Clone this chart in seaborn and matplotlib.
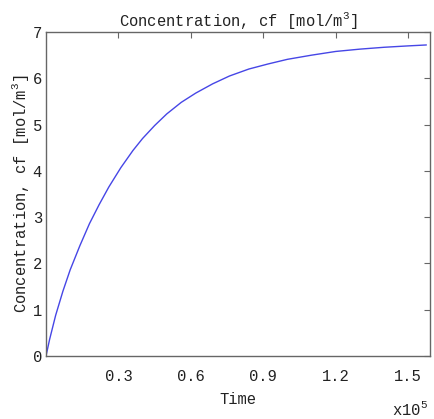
import matplotlib
matplotlib.use("Agg")
import matplotlib.pyplot as plt
import seaborn as sns
import pandas as pd

# time in units of 1e5
time_e5 = [0.0, 0.015, 0.04, 0.07, 0.10, 0.14, 0.18, 0.22, 0.26, 0.31, 0.36,
           0.40, 0.45, 0.50, 0.56, 0.62, 0.69, 0.76, 0.84, 0.92, 1.00, 1.10,
           1.20, 1.30, 1.40, 1.50, 1.575]
conc = [0.0, 0.36, 0.88, 1.40, 1.86, 2.38, 2.86, 3.27, 3.65, 4.07, 4.44,
        4.70, 4.98, 5.23, 5.48, 5.68, 5.88, 6.05, 6.20, 6.31, 6.41, 6.50,
        6.58, 6.63, 6.67, 6.70, 6.72]
xtick_vals = [0.3, 0.6, 0.9, 1.2, 1.5]
xtick_labels = ["0.3", "0.6", "0.9", "1.2", "1.5"]
ytick_vals = [0, 1, 2, 3, 4, 5, 6, 7]

df = pd.DataFrame({"Time": time_e5, "cf": conc})

sns.set_style("white")
plt.rcParams['font.family'] = ['Liberation Mono', 'DejaVu Sans Mono']
plt.rcParams['mathtext.fontset'] = 'custom'
plt.rcParams['mathtext.rm'] = 'Liberation Mono'

fig = plt.figure(figsize=(4.35, 4.19), dpi=100)
ax = fig.add_axes([46/435, 1 - 356/419, (430-46)/435, (356-32)/419])

sns.lineplot(data=df, x="Time", y="cf", ax=ax, color="#4646e6", linewidth=1.0)

ax.set_xlim(0, 1.59)
ax.set_ylim(0, 7)
ax.set_xticks(xtick_vals)
ax.set_xticklabels(xtick_labels)
ax.set_yticks(ytick_vals)

edge = "#666666"
txt = "#222222"
fs = 11.2
for s in ax.spines.values():
    s.set_visible(True)
    s.set_color(edge)
    s.set_linewidth(1.0)
ax.tick_params(direction="in", length=4, width=0.8, color=edge,
               top=True, right=True, labelsize=fs, labelcolor=txt)
ax.tick_params(axis="y", pad=3)
ax.tick_params(axis="x", pad=9)

ax.set_title("Concentration, cf [mol/m$^3$]", fontsize=fs, color=txt, pad=4)
ax.set_xlabel("Time", fontsize=fs, color=txt, labelpad=6)
ax.set_ylabel("Concentration, cf [mol/m$^3$]", fontsize=fs, color=txt, labelpad=1)
fig.text(410/435, 1 - 409/419, "x10$^5$", fontsize=fs, color=txt,
         ha="center", va="center")

fig.savefig("out.png", dpi=100)
